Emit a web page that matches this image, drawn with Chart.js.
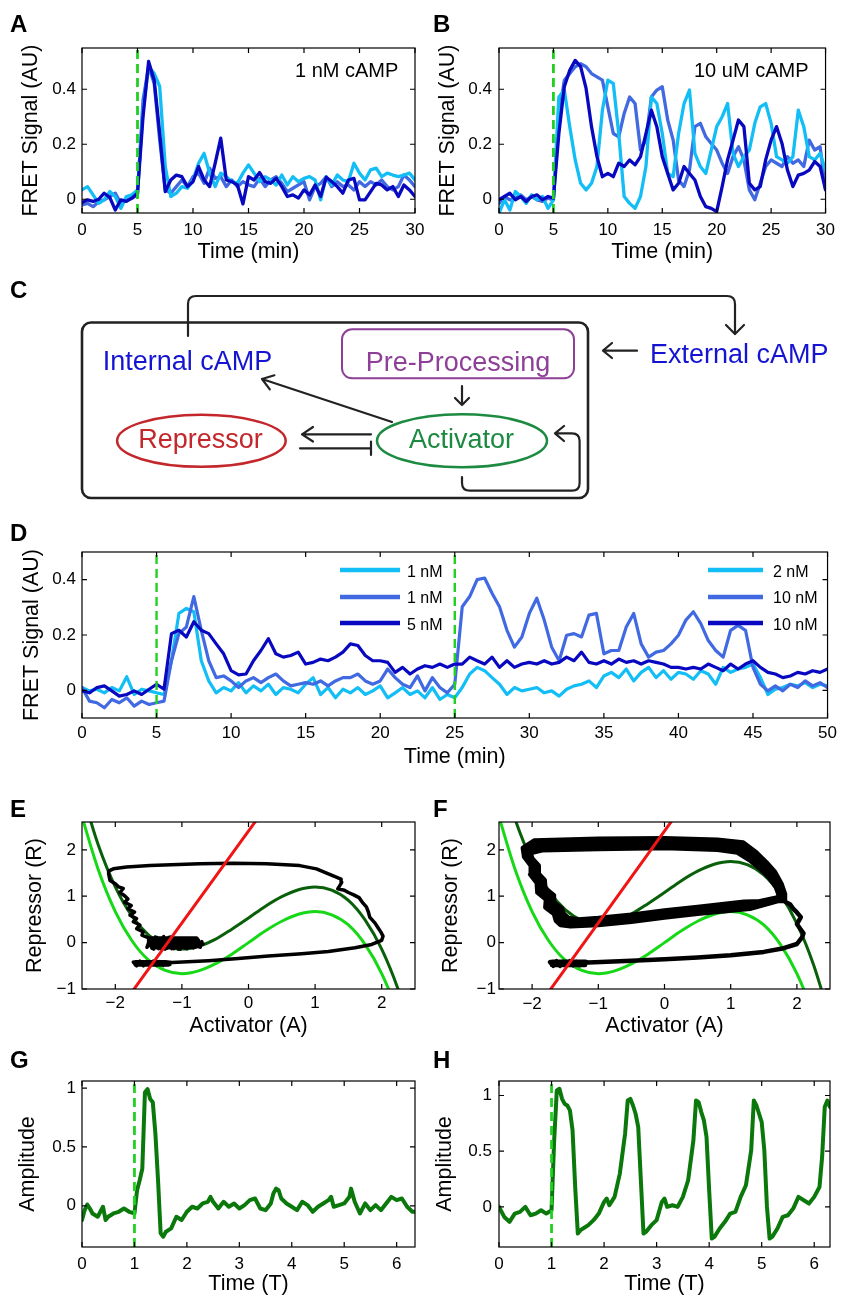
<!DOCTYPE html>
<html>
<head>
<meta charset="utf-8">
<title>cAMP FRET signal, circuit and phase plane</title>
<script src="https://cdn.jsdelivr.net/npm/chart.js@4.4.1/dist/chart.umd.min.js"></script>
<style>
  html, body { margin: 0; background: #fff; }
  #page { position: relative; width: 842px; height: 1299px; overflow: hidden; font-family: "Liberation Sans", Arial, sans-serif; }
  #page canvas { position: absolute; }
  #overlay { position: absolute; left: 0; top: 0; }
  #overlay text { font-family: "Liberation Sans", Arial, sans-serif; }
</style>
</head>
<body>
<div id="page">
  <canvas id="chartA" width="440" height="240" style="left:0;top:30px"></canvas>
  <canvas id="chartB" width="421" height="240" style="left:421px;top:30px"></canvas>
  <canvas id="chartD" width="842" height="250" style="left:0;top:530px"></canvas>
  <canvas id="chartE" width="440" height="250" style="left:0;top:800px"></canvas>
  <canvas id="chartF" width="421" height="250" style="left:421px;top:800px"></canvas>
  <canvas id="chartG" width="440" height="239" style="left:0;top:1060px"></canvas>
  <canvas id="chartH" width="421" height="239" style="left:421px;top:1060px"></canvas>

  <svg id="overlay" width="842" height="1299">
    <!-- panel letters -->
    <g font-size="24" font-weight="bold" fill="#000">
      <text x="10" y="32">A</text>
      <text x="433" y="32">B</text>
      <text x="10" y="298">C</text>
      <text x="10" y="541">D</text>
      <text x="10" y="817">E</text>
      <text x="433" y="817">F</text>
      <text x="10" y="1068">G</text>
      <text x="433" y="1068">H</text>
    </g>

    <!-- in-plot labels -->
    <text x="295" y="77" font-size="20">1 nM cAMP</text>
    <text x="694" y="77" font-size="20">10 uM cAMP</text>

    <!-- panel C: circuit -->
    <rect x="82" y="322.5" width="506" height="175.5" rx="9" fill="none" stroke="#222" stroke-width="2.6"/>
    <g fill="none" stroke="#222" stroke-width="2.2" stroke-linecap="round" stroke-linejoin="round">
      <path d="M188 336 V304 Q188 296 196 296 H727 Q735 296 735 304 V334"/>
      <path d="M726 325 L735 334 L744 325"/>
      <path d="M637 350.7 H603 M612 343 L603 350.7 L612 358"/>
      <path d="M462 386 V405 M455 398 L462 405 L469 398"/>
      <path d="M392 422 L262 379 M269.8 389.4 L262 379 L274.4 375.3"/>
      <path d="M371 434.3 H302 M313 427 L302 434.3 L313 441.5"/>
      <path d="M300 448.3 H371 M371 441.5 V455"/>
      <path d="M462 477 V483 Q462 490.7 470 490.7 H572 Q579.6 490.7 579.6 483 V441 Q579.6 433.3 572 433.3 H555 M564 426 L555 433.3 L564 441"/>
    </g>
    <rect x="342" y="329.3" width="232" height="49" rx="10" fill="none" stroke="#8E3F97" stroke-width="2"/>
    <ellipse cx="462" cy="440.7" rx="85" ry="26.5" fill="none" stroke="#1C8A40" stroke-width="2.5"/>
    <ellipse cx="201.4" cy="440.8" rx="84.3" ry="26" fill="none" stroke="#C3272B" stroke-width="2.5"/>
    <g font-size="27">
      <text x="102.7" y="370" fill="#1414D2">Internal cAMP</text>
      <text x="458" y="371" text-anchor="middle" fill="#8E3F97">Pre-Processing</text>
      <text x="650" y="363" fill="#1414D2">External cAMP</text>
      <text x="461.5" y="448.3" text-anchor="middle" fill="#1C8A40">Activator</text>
      <text x="200.5" y="448" text-anchor="middle" fill="#C3272B">Repressor</text>
    </g>

    <!-- panel D legend -->
    <g stroke-width="4.5">
      <line x1="340" y1="570" x2="400" y2="570" stroke="#12BEF5"/>
      <line x1="340" y1="597" x2="400" y2="597" stroke="#4169E1"/>
      <line x1="340" y1="623" x2="400" y2="623" stroke="#0808C0"/>
      <line x1="708" y1="570" x2="763" y2="570" stroke="#12BEF5"/>
      <line x1="708" y1="597" x2="763" y2="597" stroke="#4169E1"/>
      <line x1="708" y1="623" x2="763" y2="623" stroke="#0808C0"/>
    </g>
    <g font-size="16">
      <text x="407" y="577">1 nM</text>
      <text x="407" y="603">1 nM</text>
      <text x="407" y="630">5 nM</text>
      <text x="773" y="577">2 nM</text>
      <text x="773" y="603">10 nM</text>
      <text x="773" y="630">10 nM</text>
    </g>
  </svg>
</div>

<script>
// ---- data ----

// A and B: 0-30 min
const tAB = [0,0.5,1,1.5,2,2.5,3,3.5,4,4.5,5,5.5,6,6.5,7,7.5,8,8.5,9,9.5,10,10.5,11,11.5,12,12.5,13,13.5,14,14.5,15,15.5,16,16.5,17,17.5,18,18.5,19,19.5,20,20.5,21,21.5,22,22.5,23,23.5,24,24.5,25,25.5,26,26.5,27,27.5,28,28.5,29,29.5,30];

const navyA = [-0.012,-0.002,-0.008,0,0.022,0.007,-0.039,-0.002,-0.008,0.004,0.022,
  0.301,0.501,0.434,0.24,0.028,0.07,0.088,0.082,0.046,0.064,
  0.119,0.07,0.046,0.131,0.222,0.07,0.064,0.052,-0.017,0.082,
  0.07,0.097,0.064,0.058,0.076,0.046,0.01,0.016,0.004,0.034,
  0.016,0.052,0.01,0.08,0.064,0.046,0.022,0.07,0.076,-0.002,
  -0.002,0.028,0.058,0.052,0.034,0.046,0.01,0.052,0.034,0.01];
const cyanA = [0.034,0.046,0.016,-0.015,-0.002,0.028,0.01,-0.033,0.01,0.016,0.034,
  0.325,0.482,0.458,0.41,0.119,0.01,0.022,0.046,0.04,0.07,
  0.131,0.167,0.095,0.046,0.095,0.082,0.064,0.058,0.095,0.125,
  0.095,0.064,0.082,0.07,0.052,0.088,0.052,0.082,0.064,0.076,
  0.082,0.07,-0.002,0.082,0.052,0.088,0.07,0.064,0.131,0.095,
  0.07,0.107,0.113,0.082,0.095,0.088,0.082,0.088,0.095,0.07];
const royalA = [-0.021,-0.015,-0.027,-0.008,-0.002,0.01,0.022,-0.015,-0.002,0.004,0.016,
  0.361,0.482,0.422,0.216,0.034,0.022,0.046,0.07,0.046,0.082,
  0.095,0.058,0.113,0.076,0.082,0.046,0.07,0.046,0.064,0.052,
  0.046,0.076,0.046,0.07,0.082,0.058,0.028,0.04,0.052,0.064,
  -0.002,0.046,0.058,0.082,0.046,0.064,0.046,0.052,0.034,0.064,
  0.046,0.064,0.052,0.07,0.046,0.034,0.046,0.088,0.07,0.046];

const navyB = [-0.002,0.01,0.022,-0.002,0.01,-0.008,0.01,0.016,-0.002,0.01,0.004,
  0.239,0.409,0.469,0.505,0.482,0.403,0.264,0.155,0.082,0.094,
  0.082,0.131,0.119,0.143,0.125,0.155,0.239,0.324,0.264,0.155,
  0.094,0.034,0.058,0.119,0.094,0.07,0.01,-0.027,-0.033,-0.045,
  0.046,0.143,0.215,0.288,0.264,0.058,0.034,0.046,0.143,0.215,
  0.264,0.203,0.106,0.046,0.088,0.094,0.106,0.137,0.119,0.034];
const cyanB = [-0.051,-0.002,-0.039,0.028,0.01,-0.015,0.016,-0.002,0.01,-0.033,-0.002,
  0.372,0.397,0.264,0.143,0.058,0.034,0.058,0.119,0.324,0.433,
  0.421,0.239,0.01,-0.015,-0.033,0.01,0.119,0.372,0.348,0.239,
  0.094,0.082,0.239,0.348,0.397,0.167,0.119,0.094,0.179,0.264,
  0.3,0.348,0.167,0.119,0.155,0.179,0.276,0.336,0.348,0.276,
  0.155,0.143,0.131,0.155,0.324,0.264,0.155,0.143,0.167,0.106];
const royalB = [-0.015,0.01,-0.002,0.004,0.016,-0.002,0.01,-0.002,-0.008,0.004,-0.002,
  0.3,0.433,0.457,0.482,0.493,0.482,0.457,0.445,0.433,0.336,
  0.239,0.227,0.312,0.372,0.348,0.179,0.215,0.372,0.397,0.409,
  0.288,0.215,0.07,0.046,0.106,0.264,0.276,0.227,0.203,0.179,
  0.131,0.094,0.155,0.191,0.143,0.034,-0.002,0.058,0.119,0.143,
  0.131,0.119,0.155,0.131,0.143,0.119,0.215,0.179,0.191,0.034];

// D: 0-50 min
const tD = [0,0.5,1,1.5,2,2.5,3,3.5,4,4.5,5,5.5,6,6.5,7,7.5,8,8.5,9,9.5,10,10.5,11,11.5,12,12.5,13,13.5,14,14.5,15,15.5,16,16.5,17,17.5,18,18.5,19,19.5,20,20.5,21,21.5,22,22.5,23,23.5,24,24.5,25,25.5,26,26.5,27,27.5,28,28.5,29,29.5,30,30.5,31,31.5,32,32.5,33,33.5,34,34.5,35,35.5,36,36.5,37,37.5,38,38.5,39,39.5,40,40.5,41,41.5,42,42.5,43,43.5,44,44.5,45,45.5,46,46.5,47,47.5,48,48.5,49,49.5,50];
const cyanD = [0.01,-0.002,0.004,-0.009,0.01,-0.002,0.049,-0.015,0.004,-0.002,-0.009,
  -0.015,0.107,0.278,0.296,0.284,0.107,0.034,-0.009,0.01,-0.002,
  0.028,-0.009,0.016,-0.002,0.022,-0.015,0.01,0.004,-0.009,0.022,
  0.046,-0.015,0.01,-0.027,0.004,-0.009,0.01,-0.015,-0.002,0.016,
  -0.027,-0.009,0.01,-0.015,-0.002,-0.027,0.01,-0.033,-0.015,-0.027,
  0.01,0.059,0.083,0.071,0.046,0.022,-0.015,0.01,-0.002,0.004,
  0.01,-0.009,-0.002,-0.021,0.004,0.016,0.022,0.034,0.01,0.052,
  0.065,0.046,0.077,0.034,0.065,0.083,0.046,0.071,0.04,0.065,
  0.059,0.04,0.071,0.059,0.022,0.083,0.065,0.077,0.083,0.095,
  0.046,-0.015,0.004,0.01,0.022,0.016,0.028,0.01,0.022,0.016];
const royalD = [0.01,-0.039,-0.045,-0.063,-0.033,-0.045,-0.027,-0.057,-0.039,-0.051,-0.045,
  -0.039,0.107,0.205,0.229,0.339,0.217,0.107,0.046,0.052,0.034,
  0.01,0.034,0.046,0.028,0.046,0.059,0.034,0.016,0.022,0.028,
  0.022,0.034,0.016,0.034,0.046,0.046,0.059,0.034,0.022,0.034,
  0.077,0.046,0.022,0.01,0.052,-0.002,0.046,0.01,-0.009,0.022,
  0.302,0.339,0.4,0.406,0.351,0.302,0.217,0.156,0.193,0.278,
  0.333,0.254,0.156,0.107,0.199,0.205,0.193,0.272,0.278,0.132,
  0.144,0.144,0.229,0.278,0.168,0.12,0.138,0.144,0.168,0.199,
  0.254,0.284,0.241,0.18,0.144,0.12,0.217,0.235,0.217,0.083,
  0.022,-0.002,0.016,-0.002,0.022,0.01,0.034,0.016,0.028,0.01];
const navyD = [-0.002,-0.009,0.01,0.016,-0.002,-0.021,-0.015,-0.002,-0.015,0.004,0.022,
  0.004,0.205,0.217,0.193,0.248,0.217,0.205,0.168,0.132,0.071,
  0.056,0.059,0.107,0.144,0.187,0.132,0.12,0.126,0.138,0.095,
  0.101,0.113,0.107,0.12,0.138,0.168,0.162,0.126,0.107,0.107,
  0.101,0.065,0.083,0.059,0.077,0.089,0.083,0.095,0.083,0.095,
  0.095,0.12,0.107,0.095,0.12,0.083,0.107,0.083,0.095,0.101,
  0.095,0.107,0.095,0.101,0.12,0.107,0.138,0.101,0.095,0.107,
  0.095,0.113,0.101,0.107,0.095,0.107,0.101,0.095,0.083,0.083,
  0.077,0.083,0.077,0.095,0.083,0.071,0.095,0.077,0.095,0.107,
  0.083,0.065,0.059,0.046,0.052,0.065,0.059,0.071,0.065,0.077];

// stimulus times (dashed green)
const stimAB = [5];
const stimD = [5, 25];
const stimGH = [1];

// E and F: nullclines and trajectories
const ncA = [-2.5,-2.25,-2,-1.75,-1.5,-1.25,-1,-0.75,-0.5,-0.25,0,0.25,0.5,0.75,1,1.25,1.5,1.75,2,2.25,2.5];
const ncLight = [2.71,1.55,0.67,0.04,-0.38,-0.6,-0.67,-0.61,-0.46,-0.25,0,0.25,0.46,0.61,0.67,0.6,0.38,-0.04,-0.67,-1.55,-2.71];
const ncDarkE = [3.24,2.08,1.2,0.57,0.16,-0.07,-0.14,-0.08,0.07,0.29,0.53,0.78,0.99,1.14,1.2,1.13,0.91,0.49,-0.14,-1.02,-2.18];
const ncDarkF = [3.79,2.63,1.75,1.12,0.71,0.48,0.41,0.47,0.62,0.84,1.08,1.33,1.54,1.69,1.75,1.68,1.46,1.04,0.41,-0.47,-1.63];
const redA = [-1.92, 0.3];
const redR = [-1.4, 3.0];

const eTrajA = [-1.73,-1.68,-1.63,-1.58,-1.53,-1.48,-1.43,-1.38,-1.33,-1.28,-1.23,-1.18,
  -1.7,-1.72,-1.2,-1.2,-1.7,-1.7,-1.25,-1.15,
  -0.6,-0.2,0.3,0.8,1.2,1.6,1.85,2.0,
  2.02,1.99,1.94,1.9,1.82,1.8,1.77,1.72,1.66,1.58,1.5,1.44,1.34,1.4,1.39,1.3,1.2,1.02,0.77,
  0.27,-0.23,-0.73,-1.48,-1.83,-2.03,-2.1,
  -2.1,-2.08,-2.0,-1.95,-1.88,-1.93,-1.86,-1.81,-1.86,-1.76,-1.81,-1.71,-1.78,-1.68,-1.73,-1.63,-1.68,-1.58,-1.6,
  -1.5,-1.45,-1.4,-1.35,-1.3,-1.25,-1.2,-1.15,-1.1,-1.05,-1.0,-0.95,-0.9,-0.85,-0.8,-0.75,-0.7,
  -0.725,-0.775,-0.825,-0.875,-0.925,-0.975,-1.025,-1.075,-1.125,-1.175,-1.225,-1.275,-1.325,-1.375,-1.425,-1.475,-1.525,
  -1.5,-0.72,-0.72,-1.5,-1.5,-0.75,-0.78,-1.45,-1.45,-0.8,-0.68];
const eTrajR = [-0.42,-0.5,-0.4,-0.5,-0.41,-0.5,-0.4,-0.49,-0.41,-0.49,-0.42,-0.47,
  -0.46,-0.43,-0.44,-0.48,-0.48,-0.41,-0.41,-0.43,
  -0.39,-0.35,-0.29,-0.24,-0.19,-0.11,-0.04,0.05,
  0.14,0.22,0.33,0.42,0.55,0.66,0.77,0.85,0.97,1.03,1.08,1.13,1.16,1.3,1.37,1.42,1.48,1.59,1.66,
  1.7,1.71,1.7,1.66,1.63,1.59,1.54,
  1.48,1.34,1.27,1.2,1.17,1.08,1.01,0.94,0.87,0.8,0.73,0.66,0.59,0.52,0.45,0.38,0.3,0.23,0.16,
  0.1,-0.12,0.12,-0.13,0.1,-0.14,0.11,-0.13,0.09,-0.14,0.08,-0.12,0.07,-0.11,0.05,-0.09,0.02,
  -0.1,0.06,-0.12,0.08,-0.13,0.09,-0.14,0.1,-0.13,0.12,-0.12,0.13,-0.13,0.11,-0.14,0.1,-0.1,
  -0.06,-0.06,0,0,0.06,0.05,0.1,0.1,-0.11,-0.1,-0.03];

const fTrajA = [-1.73,-1.68,-1.63,-1.58,-1.53,-1.48,-1.43,-1.38,-1.33,-1.28,-1.23,
  -1.7,-1.72,-1.2,-1.2,-1.7,-1.7,-1.2,-1.15,
  -0.5,0,0.5,1.0,1.5,1.8,2.0,2.08,2.1,2.05,2.0,2.06,2.0,1.95,1.9,1.8,
  1.2,0.5,0,-0.5,-1.0,-1.3,-1.45,-1.52,-1.55,-1.68,-1.67,-1.8,-1.81,-1.91,-1.9,-2.0,-2.02,-1.85,-1.0,0,0.8,1.1,1.3,1.45,1.58,1.68,1.72,1.72,
  1.23,0.5,0,-0.5,-1.0,-1.34,-1.49,-1.56,-1.59,-1.72,-1.71,-1.84,-1.85,-1.95,-1.94,-2.04,-2.06,-1.89,-1.0,0,0.8,1.13,1.33,1.48,1.61,1.71,1.75,1.75,
  1.26,0.5,0,-0.5,-1.0,-1.38,-1.53,-1.6,-1.63,-1.76,-1.75,-1.88,-1.89,-1.99,-1.98,-2.08,-2.1,-1.93,-1.0,0,0.8,1.16,1.36,1.51,1.64,1.74,1.78,1.78,
  1.29,0.5,0,-0.5,-1.0,-1.42,-1.57,-1.64,-1.67,-1.8,-1.79,-1.92,-1.93,-2.03,-2.02,-2.12,-2.14,-1.97,-1.0,0,0.8,1.19,1.39,1.54,1.67,1.77,1.82,1.82];
const fTrajR = [-0.42,-0.5,-0.4,-0.5,-0.41,-0.5,-0.4,-0.49,-0.41,-0.49,-0.43,
  -0.46,-0.43,-0.44,-0.48,-0.48,-0.41,-0.41,-0.43,
  -0.39,-0.36,-0.32,-0.27,-0.2,-0.12,-0.03,0.12,0.2,0.3,0.4,0.55,0.65,0.72,0.82,0.9,
  0.88,0.77,0.69,0.6,0.53,0.5,0.53,0.62,0.74,0.88,1.02,1.17,1.35,1.5,1.66,1.82,1.93,1.99,2.02,2.04,2.0,1.94,1.76,1.58,1.4,1.2,1.05,0.98,
  0.83,0.72,0.64,0.55,0.48,0.45,0.48,0.57,0.7,0.84,0.99,1.14,1.33,1.49,1.66,1.83,1.97,2.06,2.1,2.11,2.08,2.02,1.82,1.63,1.44,1.22,1.05,0.95,
  0.78,0.67,0.59,0.5,0.43,0.4,0.43,0.52,0.66,0.8,0.96,1.11,1.31,1.48,1.66,1.84,2.01,2.13,2.17,2.18,2.15,2.09,1.88,1.68,1.48,1.24,1.05,0.92,
  0.73,0.62,0.54,0.45,0.38,0.35,0.38,0.47,0.62,0.76,0.93,1.08,1.29,1.47,1.66,1.85,2.04,2.2,2.24,2.25,2.22,2.16,1.94,1.73,1.52,1.26,1.05,0.9];

// G and H: model output
const gT = [0,0.05,0.1,0.15,0.2,0.3,0.4,0.45,0.5,0.6,0.7,0.8,0.9,1.0,1.05,1.1,1.15,1.2,1.25,1.3,
  1.35,1.4,1.45,1.5,1.55,1.6,1.7,1.8,1.9,2.0,2.1,2.2,2.3,2.4,2.45,2.5,2.6,2.7,2.8,2.9,
  3.0,3.1,3.2,3.3,3.4,3.5,3.6,3.65,3.7,3.75,3.8,3.9,4.0,4.1,4.2,4.3,4.4,4.5,4.6,4.7,
  4.75,4.8,4.9,5.0,5.1,5.13,5.2,5.3,5.4,5.5,5.6,5.7,5.8,5.9,6.0,6.1,6.2,6.3,6.35];
const gAmp = [-0.121,-0.037,0.011,-0.023,-0.065,-0.093,-0.008,-0.121,-0.093,-0.065,
  -0.051,-0.023,-0.051,-0.065,0.132,0.217,0.315,0.963,0.992,0.907,
  0.879,0.611,0.217,-0.234,-0.262,-0.22,-0.192,-0.093,-0.121,-0.051,
  -0.008,-0.023,0.02,0.034,0.076,0.034,-0.023,0.034,-0.008,0.02,
  -0.023,0.006,0.048,0.062,-0.023,-0.037,0.02,0.104,0.146,0.132,
  0.062,0.02,-0.008,-0.037,0.034,0.006,-0.051,-0.008,0.02,0.048,
  0.076,-0.008,0.006,0.02,0.076,0.146,0.034,-0.065,0.02,-0.037,
  0.006,-0.037,0.02,0.076,0.048,0.062,-0.008,-0.051,-0.051];

const hT = [0,0.1,0.2,0.3,0.4,0.5,0.6,0.7,0.8,0.9,1.0,1.05,1.1,1.15,1.2,1.25,1.3,1.35,1.4,1.45,
  1.5,1.55,1.6,1.7,1.8,1.9,2.0,2.05,2.1,2.2,2.3,2.4,2.45,2.5,2.55,2.6,2.65,2.7,2.75,2.8,
  2.9,3.0,3.1,3.15,3.2,3.3,3.4,3.5,3.6,3.7,3.75,3.8,3.85,3.9,3.95,4.0,4.05,4.1,4.2,4.3,
  4.4,4.5,4.6,4.7,4.8,4.85,4.9,4.95,5.0,5.05,5.1,5.15,5.2,5.3,5.4,5.5,5.6,5.7,5.8,5.9,
  6.0,6.1,6.15,6.2,6.25,6.3];
const hAmp = [0,-0.09,-0.134,-0.06,-0.045,0,-0.075,-0.06,-0.03,-0.06,
  -0.03,0.597,1.045,1.06,0.97,0.925,0.91,0.866,0.687,0.179,
  -0.239,-0.209,-0.194,-0.164,-0.119,-0.06,0.045,0.075,0.015,0.09,
  0.299,0.657,0.955,0.97,0.91,0.836,0.716,0.239,-0.239,-0.224,
  -0.164,-0.119,0.045,0.075,0,0.015,0,0.09,0.239,0.597,
  0.955,0.94,0.851,0.776,0.627,0.149,-0.284,-0.269,-0.194,-0.134,
  -0.06,-0.045,0.09,0.194,0.507,0.955,0.91,0.836,0.761,0.507,
  0,-0.284,-0.269,-0.194,-0.09,-0.075,-0.015,0.09,0.06,0.03,
  0.09,0.179,0.448,0.896,0.955,0.896];

// tick labels
const ticksT30 = [0, 5, 10, 15, 20, 25, 30];
const ticksT50 = [0, 5, 10, 15, 20, 25, 30, 35, 40, 45, 50];
const ticksFret = [0, 0.2, 0.4];
const ticksAct = [-2, -1, 0, 1, 2];
const ticksRep = [-1, 0, 1, 2];
const ticksTT = [0, 1, 2, 3, 4, 5, 6];
const ticksAmp = [0, 0.5, 1];

// ---- styling ----
const CYAN = '#12BEF5', ROYAL = '#4169E1', NAVY = '#0808C0';
const STIM = '#22D022', LIME = '#16D816', FOREST = '#0A600A', RED = '#F01414', MODEL = '#0A780A';

Chart.defaults.font.family = '"Liberation Sans", Arial, sans-serif';
Chart.defaults.font.size = 17;
Chart.defaults.color = '#000';
Chart.defaults.animation = false;
Chart.defaults.plugins.legend.display = false;
Chart.defaults.plugins.tooltip.enabled = false;

// MATLAB-style box with inward ticks on all four sides
const framePlugin = {
    id: 'frame',
    afterDatasetsDraw(chart) {
        const { ctx, chartArea: a, scales: { x, y } } = chart;
        const len = 5;
        ctx.save();
        ctx.strokeStyle = '#000';
        ctx.lineWidth = 1.2;
        ctx.strokeRect(a.left, a.top, a.right - a.left, a.bottom - a.top);
        ctx.beginPath();
        x.ticks.forEach(t => {
            const px = x.getPixelForValue(t.value);
            ctx.moveTo(px, a.bottom); ctx.lineTo(px, a.bottom - len);
            ctx.moveTo(px, a.top); ctx.lineTo(px, a.top + len);
        });
        y.ticks.forEach(t => {
            const py = y.getPixelForValue(t.value);
            ctx.moveTo(a.left, py); ctx.lineTo(a.left + len, py);
            ctx.moveTo(a.right, py); ctx.lineTo(a.right - len, py);
        });
        ctx.stroke();
        ctx.restore();
    }
};

function fmt(v) {
    return v < 0 ? '\u2212' + Math.abs(v) : String(v);
}

function pts(xs, ys) {
    return xs.map((x, i) => ({ x: x, y: ys[i] }));
}

function trace(xs, ys, color, width, smooth) {
    return {
        data: pts(xs, ys), showLine: true, borderColor: color, borderWidth: width,
        pointRadius: 0, tension: 0, borderJoinStyle: 'round', borderCapStyle: 'round',
        cubicInterpolationMode: smooth ? 'monotone' : 'default'
    };
}

function stimLine(x, range, width) {
    return {
        data: [{ x: x, y: range[0] }, { x: x, y: range[1] }], showLine: true,
        borderColor: STIM, borderWidth: width, borderDash: [9, 5], borderCapStyle: 'butt', pointRadius: 0
    };
}

function axis(a, dir) {
    return {
        type: 'linear', min: a.range[0], max: a.range[1],
        afterBuildTicks: s => { s.ticks = a.ticks.map(v => ({ value: v })); },
        afterFit: s => { if (dir === 'x') s.height = a.size; else s.width = a.size; },
        grid: { display: false, drawTicks: false },
        border: { display: false },
        ticks: { padding: a.pad, autoSkip: false, maxRotation: 0, callback: v => fmt(v) },
        title: {
            display: true, text: a.title, font: { size: 21.5 },
            padding: dir === 'x' ? { top: 0, bottom: a.tpad } : { top: a.tpad, bottom: 0 }
        }
    };
}

function panel(id, spec, datasets) {
    return new Chart(document.getElementById(id), {
        type: 'scatter',
        data: { datasets: datasets },
        options: {
            responsive: false,
            layout: { padding: { top: spec.top, right: spec.right, left: 0, bottom: 0 } },
            scales: { x: axis(spec.x, 'x'), y: axis(spec.y, 'y') }
        },
        plugins: [framePlugin]
    });
}

// ---- A ----
const fretRange = [-0.05, 0.55];
panel('chartA', {
    top: 18, right: 25,
    x: { range: [0, 30], ticks: ticksT30, size: 57, pad: 7, title: 'Time (min)', tpad: 5 },
    y: { range: fretRange, ticks: ticksFret, size: 82, pad: 6, title: 'FRET Signal (AU)', tpad: 18 }
}, [
    stimLine(stimAB[0], fretRange, 2.8),
    trace(tAB, navyA, NAVY, 3.3),
    trace(tAB, cyanA, CYAN, 3.3),
    trace(tAB, royalA, ROYAL, 3.3)
]);

// ---- B ----
panel('chartB', {
    top: 18, right: 11,
    x: { range: [0, 30], ticks: ticksT30, size: 57, pad: 7, title: 'Time (min)', tpad: 5 },
    y: { range: fretRange, ticks: ticksFret, size: 78, pad: 7, title: 'FRET Signal (AU)', tpad: 14 }
}, [
    stimLine(stimAB[0], fretRange, 2.8),
    trace(tAB, navyB, NAVY, 3.3),
    trace(tAB, cyanB, CYAN, 3.3),
    trace(tAB, royalB, ROYAL, 3.3)
]);

// ---- D ----
const fretRangeD = [-0.1, 0.5];
panel('chartD', {
    top: 22, right: 11,
    x: { range: [0, 50], ticks: ticksT50, size: 62, pad: 5, title: 'Time (min)', tpad: 10 },
    y: { range: fretRangeD, ticks: ticksFret, size: 82, pad: 6, title: 'FRET Signal (AU)', tpad: 19 }
}, [
    stimLine(stimD[0], fretRangeD, 2.4),
    stimLine(stimD[1], fretRangeD, 2.4),
    trace(tD, navyD, NAVY, 3.2),
    trace(tD, royalD, ROYAL, 3.2),
    trace(tD, cyanD, CYAN, 3.2)
]);

// ---- E and F ----
const repRange = [-1, 2.6];
panel('chartE', {
    top: 22, right: 25,
    x: { range: [-2.5, 2.5], ticks: ticksAct, size: 61, pad: 4, title: 'Activator (A)', tpad: 11 },
    y: { range: repRange, ticks: ticksRep, size: 82, pad: 6, title: 'Repressor (R)', tpad: 22 }
}, [
    trace(redA, redR, RED, 3),
    trace(eTrajA, eTrajR, '#000', 3.5),
    trace(ncA, ncDarkE, FOREST, 3, true),
    trace(ncA, ncLight, LIME, 3, true)
]);

panel('chartF', {
    top: 22, right: 12,
    x: { range: [-2.5, 2.5], ticks: ticksAct, size: 61, pad: 5, title: 'Activator (A)', tpad: 11 },
    y: { range: repRange, ticks: ticksRep, size: 78, pad: 3, title: 'Repressor (R)', tpad: 17 }
}, [
    trace(redA, redR, RED, 3),
    trace(fTrajA, fTrajR, '#000', 4.5),
    trace(ncA, ncDarkF, FOREST, 3, true),
    trace(ncA, ncLight, LIME, 3, true)
]);

// ---- G and H ----
const ampRangeG = [-0.35, 1.06];
panel('chartG', {
    top: 21, right: 25,
    x: { range: [0, 6.35], ticks: ticksTT, size: 52, pad: 7, title: 'Time (T)', tpad: 2 },
    y: { range: ampRangeG, ticks: ticksAmp, size: 82, pad: 6, title: 'Amplitude', tpad: 15.6 }
}, [
    stimLine(stimGH[0], ampRangeG, 2.8),
    trace(gT, gAmp, MODEL, 4)
]);

const ampRangeH = [-0.36, 1.13];
panel('chartH', {
    top: 21, right: 12,
    x: { range: [0, 6.3], ticks: ticksTT, size: 52, pad: 7, title: 'Time (T)', tpad: 2 },
    y: { range: ampRangeH, ticks: ticksAmp, size: 78, pad: 7, title: 'Amplitude', tpad: 11 }
}, [
    stimLine(stimGH[0], ampRangeH, 2.8),
    trace(hT, hAmp, MODEL, 4)
]);
</script>
</body>
</html>
